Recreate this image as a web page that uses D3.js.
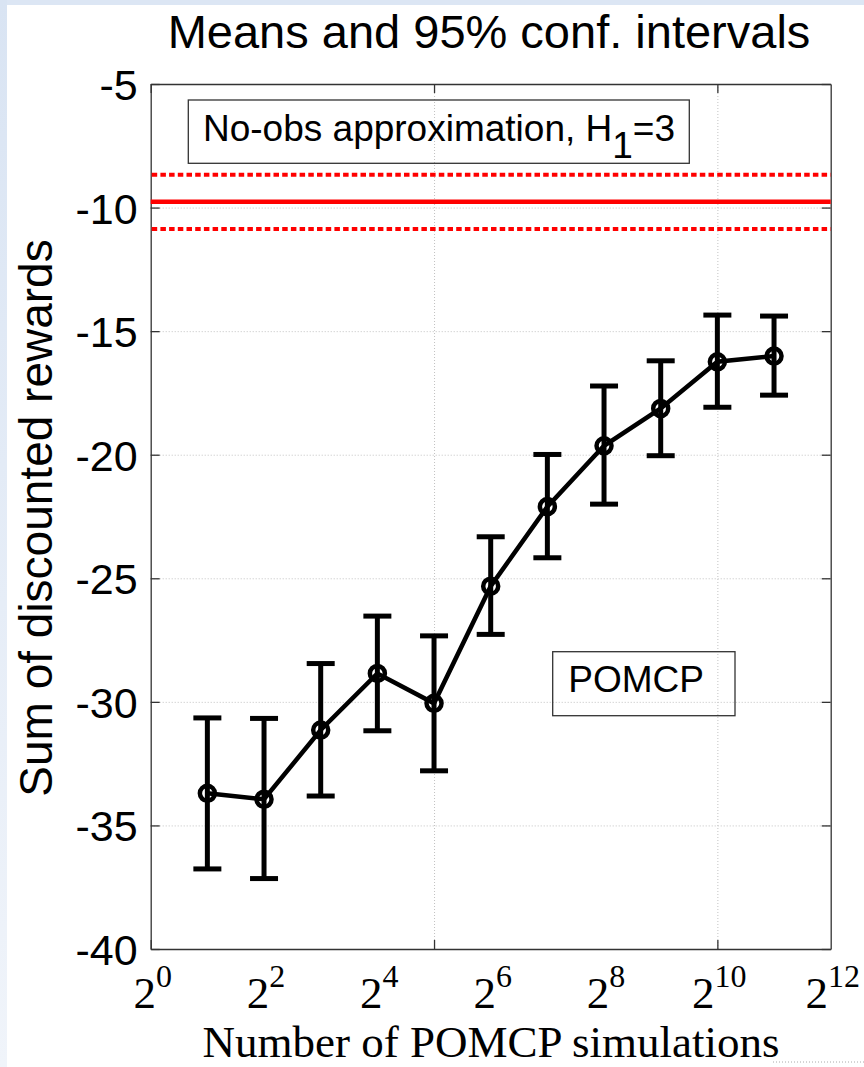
<!doctype html>
<html lang="en">
<head>
<meta charset="utf-8">
<script src="https://d3js.org/d3.v7.min.js"></script>
<style>
  body { margin: 0; background: #fff; }
  svg { display: block; }
  .grid line { stroke: #c2c2c2; stroke-width: 1; stroke-dasharray: 1,2; }
  .grid path { display: none; }
  .ax path, .ax line { stroke: #333; stroke-width: 1.3; }
  .ax text { font-family: "Liberation Sans", Arial, sans-serif; font-size: 43px; fill: #000; }
  .sans { font-family: "Liberation Sans", Arial, sans-serif; fill: #000; }
  .serif { font-family: "Liberation Serif", "Times New Roman", serif; fill: #000; }
</style>
</head>
<body>
<div id="chart"></div>
<script>
// POMCP results, x = log2(number of simulations)
const exponents = [1, 2, 3, 4, 5, 6, 7, 8, 9, 10, 11];
const means = [-33.70, -33.94, -31.14, -28.85, -30.06, -25.32, -22.10, -19.64, -18.13, -16.24, -16.01];
const lower = [-36.76, -37.15, -33.81, -31.17, -32.79, -27.27, -24.17, -22.00, -20.04, -18.08, -17.59];
const upper = [-30.65, -30.67, -28.45, -26.53, -27.33, -23.32, -19.99, -17.22, -16.20, -14.35, -14.39];

// no-obs approximation reference
const refMean = -9.76;
const refBand = [-10.87, -8.67];

const yTicks = [-40, -35, -30, -25, -20, -15, -10, -5];
const xTicks = [0, 5, 10];
const xLabelExp = [0, 2, 4, 6, 8, 10, 12];

const W = 864, H = 1067;
const pLeft = 150.7, pRight = 830.7, pTop = 84, pBottom = 949;

const svg = d3.select('#chart').append('svg')
  .attr('width', W).attr('height', H);

// window-ish background border
const defs = svg.append('defs');
const grad = defs.append('linearGradient').attr('id', 'edge')
  .attr('x1', 0).attr('y1', 0).attr('x2', 0).attr('y2', 1);
grad.append('stop').attr('offset', '0%').attr('stop-color', '#d9e4f3');
grad.append('stop').attr('offset', '100%').attr('stop-color', '#f0f4fa');
svg.append('rect').attr('width', W).attr('height', 5).attr('fill', '#dce6f4');
svg.append('rect').attr('width', 7).attr('height', H).attr('fill', 'url(#edge)');

const x = d3.scaleLinear().domain([0, 12]).range([pLeft, pRight]);
const y = d3.scaleLinear().domain([-40, -5]).range([pBottom, pTop]);

// grid
svg.append('g').attr('class', 'grid')
  .attr('transform', 'translate(' + pLeft + ',0)')
  .call(d3.axisLeft(y).tickValues(yTicks.slice(1, -1)).tickSize(-(pRight - pLeft)).tickFormat(''));
svg.append('g').attr('class', 'grid')
  .attr('transform', 'translate(0,' + pBottom + ')')
  .call(d3.axisBottom(x).tickValues([5, 10]).tickSize(-(pBottom - pTop)).tickFormat(''));

// axes box with inner ticks
const yAxis = svg.append('g').attr('class', 'ax')
  .attr('transform', 'translate(' + pLeft + ',0)')
  .call(d3.axisLeft(y).tickValues(yTicks).tickSize(-9).tickSizeOuter(0).tickPadding(13)
    .tickFormat(d => String(d)));
yAxis.selectAll('text').attr('dy', '0.36em');
svg.append('g').attr('class', 'ax')
  .attr('transform', 'translate(' + pRight + ',0)')
  .call(d3.axisRight(y).tickValues(yTicks).tickSize(-9).tickSizeOuter(0).tickFormat(''));
svg.append('g').attr('class', 'ax')
  .attr('transform', 'translate(0,' + pBottom + ')')
  .call(d3.axisBottom(x).tickValues(xTicks).tickSize(-9).tickSizeOuter(0).tickFormat(''));
svg.append('g').attr('class', 'ax')
  .attr('transform', 'translate(0,' + pTop + ')')
  .call(d3.axisTop(x).tickValues(xTicks).tickSize(-9).tickSizeOuter(0).tickFormat(''));

// x labels as powers of two
svg.selectAll('.xlab')
  .data(xLabelExp)
  .enter()
  .append('text')
  .attr('class', 'xlab serif')
  .attr('x', d => x(d) + 2)
  .attr('y', 1008)
  .attr('text-anchor', 'middle')
  .each(function (d) {
    const t = d3.select(this);
    t.append('tspan').attr('font-size', 45).text('2');
    t.append('tspan').attr('font-size', 32).attr('dy', -21).text(d);
  });

// reference lines
svg.append('line')
  .attr('x1', x(0)).attr('x2', x(12))
  .attr('y1', y(refMean)).attr('y2', y(refMean))
  .attr('stroke', '#ff0000').attr('stroke-width', 4.5);
svg.selectAll('.band')
  .data(refBand)
  .enter()
  .append('line')
  .attr('class', 'band')
  .attr('x1', x(0) + 1).attr('x2', x(12))
  .attr('y1', d => y(d)).attr('y2', d => y(d))
  .attr('stroke', '#ff0000').attr('stroke-width', 4)
  .attr('stroke-dasharray', '5.5,3.2');

const pts = exponents.map((e, i) => ({e: e, m: means[i], lo: lower[i], hi: upper[i]}));

// error bars
const eb = svg.append('g').attr('stroke', '#000').attr('stroke-width', 5);
eb.selectAll('.v').data(pts).enter().append('line')
  .attr('x1', d => x(d.e)).attr('x2', d => x(d.e))
  .attr('y1', d => y(d.lo)).attr('y2', d => y(d.hi));
eb.selectAll('.cl').data(pts).enter().append('line')
  .attr('x1', d => x(d.e) - 14).attr('x2', d => x(d.e) + 14)
  .attr('y1', d => y(d.lo)).attr('y2', d => y(d.lo));
eb.selectAll('.ch').data(pts).enter().append('line')
  .attr('x1', d => x(d.e) - 14).attr('x2', d => x(d.e) + 14)
  .attr('y1', d => y(d.hi)).attr('y2', d => y(d.hi));

// mean line + markers
svg.append('path')
  .datum(pts)
  .attr('fill', 'none')
  .attr('stroke', '#000')
  .attr('stroke-width', 4.5)
  .attr('d', d3.line().x(d => x(d.e)).y(d => y(d.m)));
svg.selectAll('.mk').data(pts).enter().append('circle')
  .attr('cx', d => x(d.e)).attr('cy', d => y(d.m))
  .attr('r', 7.5)
  .attr('fill', 'none').attr('stroke', '#000').attr('stroke-width', 4.5);

// text boxes
svg.append('rect')
  .attr('x', 188.3).attr('y', 100).attr('width', 501).attr('height', 63.3)
  .attr('fill', 'none').attr('stroke', '#333').attr('stroke-width', 1.3);
const t1 = svg.append('text').attr('class', 'sans')
  .attr('x', 203).attr('y', 140.7).attr('font-size', 37);
t1.append('tspan').text('No-obs approximation, H');
t1.append('tspan').attr('dy', 17).text('1');
t1.append('tspan').attr('dy', -17).text('=3');

svg.append('rect')
  .attr('x', 552.7).attr('y', 651.7).attr('width', 182.3).attr('height', 64)
  .attr('fill', 'none').attr('stroke', '#333').attr('stroke-width', 1.3);
svg.append('text').attr('class', 'sans')
  .attr('x', 568.3).attr('y', 692.3).attr('font-size', 37)
  .text('POMCP');

// titles
svg.append('text').attr('class', 'sans')
  .attr('x', 489).attr('y', 48).attr('text-anchor', 'middle').attr('font-size', 47)
  .text('Means and 95% conf. intervals');
svg.append('text').attr('class', 'sans')
  .attr('transform', 'translate(52,518) rotate(-90)')
  .attr('text-anchor', 'middle').attr('font-size', 46)
  .text('Sum of discounted rewards');
svg.append('text').attr('class', 'serif')
  .attr('x', 491).attr('y', 1057).attr('text-anchor', 'middle').attr('font-size', 45)
  .text('Number of POMCP simulations');

// stray dotted edge at the bottom right
svg.append('line')
  .attr('x1', 773).attr('x2', W).attr('y1', 1062).attr('y2', 1062)
  .attr('stroke', '#aaa').attr('stroke-dasharray', '1,2');
</script>
</body>
</html>
